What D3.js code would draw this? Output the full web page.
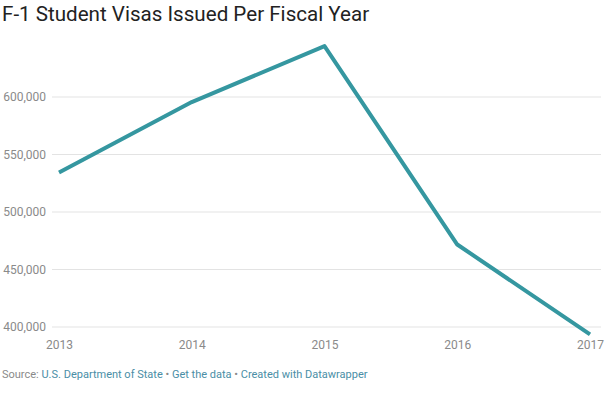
<!DOCTYPE html>
<html>
<head>
<meta charset="utf-8">
<script src="https://cdn.jsdelivr.net/npm/d3@7"></script>
<style>
  body { margin: 0; background: #fff; }
</style>
</head>
<body>
<div class="container"></div>
<script>
var years = [2013, 2014, 2015, 2016, 2017];
var visas = [534320, 595569, 644233, 471728, 393573];
var yTicks = [400000, 450000, 500000, 550000, 600000];

var w = 609;
var h = 398;

var svg = d3.select('.container')
  .append('svg')
  .attr('width', w)
  .attr('height', h);

/* ===== TITLE ===== */
svg.append('text')
  .text('F-1 Student Visas Issued Per Fiscal Year')
  .attr('x', 2)
  .attr('y', 21)
  .attr('font-family', 'Roboto, sans-serif')
  .attr('font-size', '20.6px')
  .attr('fill', '#222');

/* ===== SCALES ===== */
var xScale = d3.scaleLinear()
  .domain([2013, 2017])
  .range([59, 590]);

var yScale = d3.scaleLinear()
  .domain([400000, 600000])
  .range([327, 97]);

/* ===== GRID + Y LABELS ===== */
var grid = svg.append('g');
yTicks.forEach(function(t) {
  grid.append('line')
    .attr('x1', 52)
    .attr('x2', 601)
    .attr('y1', yScale(t))
    .attr('y2', yScale(t))
    .attr('stroke', '#e3e3e3')
    .attr('stroke-width', 1);
  grid.append('text')
    .text(d3.format(',')(t))
    .attr('x', 46)
    .attr('y', yScale(t))
    .attr('dy', '0.35em')
    .attr('text-anchor', 'end')
    .attr('font-family', 'Roboto, sans-serif')
    .attr('font-size', '12px')
    .attr('fill', '#8a8a8a');
});

/* ===== X LABELS ===== */
var xAxis = d3.axisBottom(xScale)
  .tickValues(years)
  .tickFormat(d3.format('d'))
  .tickSize(0)
  .tickPadding(0);

var xg = svg.append('g')
  .attr('transform', 'translate(0,340)')
  .call(xAxis);
xg.select('.domain').remove();
xg.selectAll('text')
  .attr('font-family', 'Roboto, sans-serif')
  .attr('font-size', '12px')
  .attr('fill', '#8a8a8a');

/* ===== LINE ===== */
var line = d3.line()
  .x(function(d, i) { return xScale(years[i]); })
  .y(function(d) { return yScale(d); });

svg.append('path')
  .datum(visas)
  .attr('d', line)
  .attr('fill', 'none')
  .attr('stroke', '#3597a0')
  .attr('stroke-width', 4)
  .attr('stroke-linejoin', 'round');

/* ===== FOOTER ===== */
var foot = svg.append('text')
  .attr('x', 2)
  .attr('y', 378)
  .attr('font-family', 'Roboto, sans-serif')
  .attr('font-size', '11px')
  .attr('fill', '#8a8a8a');
foot.append('tspan').text('Source: ');
foot.append('tspan').text('U.S. Department of State').attr('fill', '#4a8ea6');
foot.append('tspan').text(' • ');
foot.append('tspan').text('Get the data').attr('fill', '#4a8ea6');
foot.append('tspan').text(' • ');
foot.append('tspan').text('Created with Datawrapper').attr('fill', '#4a8ea6');
</script>
</body>
</html>
